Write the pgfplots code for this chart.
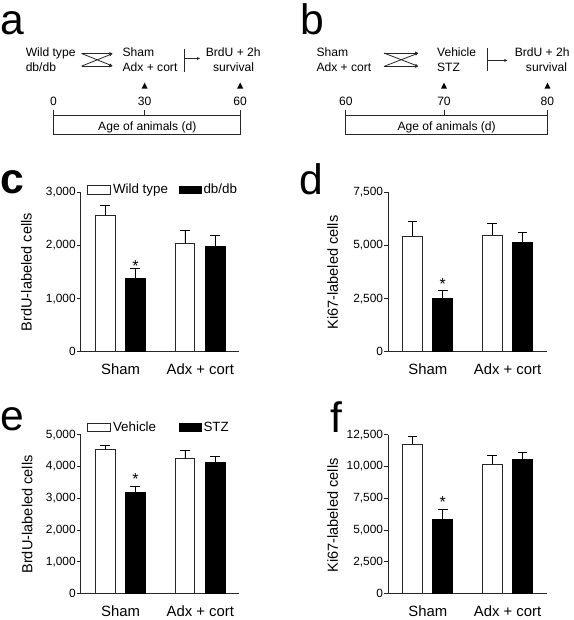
\documentclass[border=0pt]{standalone}
\usepackage{pgfplots}
\pgfplotsset{compat=1.18}
\usepackage{fontspec}
\setmainfont{Liberation Sans}
\usetikzlibrary{arrows.meta}

\newcommand{\tlfont}{\fontsize{12.2}{14}\selectfont}
\newcommand{\lgfont}{\fontsize{13.5}{15}\selectfont}
\newcommand{\ylfont}{\fontsize{14.7}{16}\selectfont}
\newcommand{\plfont}{\fontsize{43}{45}\selectfont}

\pgfplotsset{
  barpanel/.style={
    scale only axis, width=160pt,
    xmin=0, xmax=160, ymin=0,
    axis x line*=bottom, axis y line*=left,
    axis line style={black!85, line width=0.9pt, -},
    xtick={40,120.5}, xticklabels={Sham, Adx + cort},
    x tick style={draw=none},
    xticklabel style={font=\fontsize{15}{17}\selectfont, anchor=base, yshift=-19pt},
    y tick style={black!85, line width=0.9pt},
    tick align=outside, major tick length=4pt,
    yticklabel style={font=\fontsize{12}{14}\selectfont, inner sep=0pt, anchor=east, xshift=-1pt},
    /pgf/number format/assume math mode=true,
    /pgf/number format/1000 sep={,},
    scaled y ticks=false,
    clip=false,
  },
  wbar/.style={ybar, bar width=20pt, bar shift=0pt, fill=white, draw=black!85, line width=0.8pt,
    error bars/.cd, y dir=plus, y explicit,
    error bar style={black, line width=0.9pt},
    error mark options={rotate=90, black, line width=0.9pt, mark size=5pt}},
  bbar/.style={ybar, bar width=20pt, bar shift=0pt, fill=black, draw=black, line width=0.8pt,
    error bars/.cd, y dir=plus, y explicit,
    error bar style={black, line width=0.9pt},
    error mark options={rotate=90, black, line width=0.9pt, mark size=5pt}},
}

\begin{document}
\begin{tikzpicture}
% page frame
\path (0pt,0pt) rectangle (578pt,-620pt);

\begin{scope}[x=1pt,y=-1pt, line width=0.8pt, draw=black!85]
% ---------- panel a ----------
\node[anchor=base west, inner sep=0pt, font=\plfont] at (-1,35) {a};
\node[anchor=base west, inner sep=0pt, font=\tlfont] at (25,57.3) {Wild type};
\node[anchor=base west, inner sep=0pt, font=\tlfont] at (25,72) {db/db};
\draw[-{Latex[length=3.5pt,width=3pt]}] (81.7,54)--(113.3,54);
\draw[-{Latex[length=3.5pt,width=3pt]}] (81.7,54)--(113.3,66.7);
\draw[-{Latex[length=3.5pt,width=3pt]}] (81.7,66.7)--(113.3,54);
\draw[-{Latex[length=3.5pt,width=3pt]}] (81.7,66.7)--(113.3,66.7);
\node[anchor=base west, inner sep=0pt, font=\tlfont] at (122.7,57.3) {Sham};
\node[anchor=base west, inner sep=0pt, font=\tlfont] at (122.7,72) {Adx + cort};
\draw (185,49.3)--(185,72.7);
\draw[-{Latex[length=3.5pt,width=3pt]}] (185,59)--(201.7,59);
\node[anchor=base west, inner sep=0pt, font=\tlfont] at (206.7,57.3) {BrdU + 2h};
\node[anchor=base, inner sep=0pt, font=\tlfont] at (235,72) {survival};
\fill[black] (142.3,89.3)--(148.3,89.3)--(145.3,83.3)--cycle;
\fill[black] (238.7,89.3)--(244.7,89.3)--(241.7,83.3)--cycle;
\node[anchor=base, inner sep=0pt, font=\tlfont] at (53.3,106.7) {0};
\node[anchor=base, inner sep=0pt, font=\tlfont] at (145.3,106.7) {30};
\node[anchor=base, inner sep=0pt, font=\tlfont] at (241.7,106.7) {60};
\draw (53.3,110.7)--(53.3,135.7)--(241.7,135.7)--(241.7,110.7);
\draw (53.3,116)--(241.7,116);
\draw (145.3,110.7)--(145.3,116);
\node[anchor=base, inner sep=0pt, font=\tlfont] at (148,131.3) {Age of animals (d)};

% ---------- panel b ----------
\node[anchor=base west, inner sep=0pt, font=\plfont] at (302.5,35) {b};
\node[anchor=base west, inner sep=0pt, font=\tlfont] at (318.3,56.7) {Sham};
\node[anchor=base west, inner sep=0pt, font=\tlfont] at (318.3,71.7) {Adx + cort};
\draw[-{Latex[length=3.5pt,width=3pt]}] (386.7,53.5)--(421.7,53.5);
\draw[-{Latex[length=3.5pt,width=3pt]}] (386.7,53.5)--(421.7,67);
\draw[-{Latex[length=3.5pt,width=3pt]}] (386.7,67)--(421.7,53.5);
\draw[-{Latex[length=3.5pt,width=3pt]}] (386.7,67)--(421.7,67);
\node[anchor=base west, inner sep=0pt, font=\tlfont] at (440,56.7) {Vehicle};
\node[anchor=base west, inner sep=0pt, font=\tlfont] at (440,71.7) {STZ};
\draw (491,48.3)--(491,71.7);
\draw[-{Latex[length=3.5pt,width=3pt]}] (491,61)--(511.7,61);
\node[anchor=base west, inner sep=0pt, font=\tlfont] at (518.3,56.7) {BrdU + 2h};
\node[anchor=base, inner sep=0pt, font=\tlfont] at (550.7,71.7) {survival};
\fill[black] (444.3,89.3)--(450.3,89.3)--(447.3,83.3)--cycle;
\fill[black] (548.7,89.3)--(554.7,89.3)--(551.7,83.3)--cycle;
\node[anchor=base, inner sep=0pt, font=\tlfont] at (348.3,106.7) {60};
\node[anchor=base, inner sep=0pt, font=\tlfont] at (447.3,106.7) {70};
\node[anchor=base, inner sep=0pt, font=\tlfont] at (551.7,106.7) {80};
\draw (348.3,110.7)--(348.3,135.7)--(551.7,135.7)--(551.7,110.7);
\draw (348.3,116)--(551.7,116);
\draw (447.3,110.7)--(447.3,116);
\node[anchor=base, inner sep=0pt, font=\tlfont] at (450,131.3) {Age of animals (d)};

% ---------- panel letters & y labels for c-f ----------
\node[anchor=base west, inner sep=0pt, font=\plfont\bfseries] at (-1,195) {c};
\node[anchor=base west, inner sep=0pt, font=\plfont] at (301,196.7) {d};
\node[anchor=base west, inner sep=0pt, font=\plfont] at (-1,434) {e};
\node[anchor=base west, inner sep=0pt, font=\plfont] at (332.5,436.7) {f};
\node[rotate=90, inner sep=0pt, font=\ylfont] at (26,274.5) {BrdU-labeled cells};
\node[rotate=90, inner sep=0pt, font=\ylfont] at (335,275) {Ki67-labeled cells};
\node[rotate=90, inner sep=0pt, font=\ylfont] at (26.7,519) {BrdU-labeled cells};
\node[rotate=90, inner sep=0pt, font=\ylfont] at (335,520) {Ki67-labeled cells};

% ---------- legends ----------
\draw[fill=white] (87.3,187.3) rectangle (111,195.7);
\node[anchor=base west, inner sep=0pt, font=\lgfont] at (113,195.7) {Wild type};
\fill[black] (180,187.3) rectangle (203.3,195.7);
\node[anchor=base west, inner sep=0pt, font=\lgfont] at (204.3,195.7) {db/db};
\draw[fill=white] (87.3,426.7) rectangle (111,435.7);
\node[anchor=base west, inner sep=0pt, font=\lgfont] at (113,435.7) {Vehicle};
\fill[black] (180,426.7) rectangle (203.3,435.7);
\node[anchor=base west, inner sep=0pt, font=\lgfont] at (204.3,435.7) {STZ};
\end{scope}

% ---------- panel c ----------
\begin{axis}[barpanel, at={(81pt,-355pt)}, anchor=south west, height=161pt,
  ymax=3000, ytick={0,1000,2000,3000}]
\addplot[wbar] coordinates {(24.5,2566) +- (0,179) (105,2044) +- (0,242)};
\addplot[bbar] coordinates {(55,1385) +- (0,193) (135.5,1981) +- (0,205)};
\node[anchor=base, yshift=-7.5pt, inner sep=0pt, font=\fontsize{16}{16}\selectfont] at (axis cs:55,1645) {*};
\end{axis}

% ---------- panel d ----------
\begin{axis}[barpanel, at={(391pt,-355pt)}, anchor=south west, height=161pt,
  ymax=7500, ytick={0,2500,5000,7500}]
\addplot[wbar] coordinates {(24.5,5436) +- (0,699) (105,5483) +- (0,559)};
\addplot[bbar] coordinates {(55,2530) +- (0,343) (135.5,5138) +- (0,484)};
\node[anchor=base, yshift=-7.5pt, inner sep=0pt, font=\fontsize{16}{16}\selectfont] at (axis cs:55,3284) {*};
\end{axis}

% ---------- panel e ----------
\begin{axis}[barpanel, at={(81pt,-599pt)}, anchor=south west, height=160.5pt,
  ymax=5000, ytick={0,1000,2000,3000,4000,5000}]
\addplot[wbar] coordinates {(24.5,4522) +- (0,125) (105,4250) +- (0,250)};
\addplot[bbar] coordinates {(55,3178) +- (0,188) (135.5,4125) +- (0,178)};
\node[anchor=base, yshift=-7.5pt, inner sep=0pt, font=\fontsize{16}{16}\selectfont] at (axis cs:55,3656) {*};
\end{axis}

% ---------- panel f ----------
\begin{axis}[barpanel, at={(391pt,-599pt)}, anchor=south west, height=160.5pt,
  ymax=12500, ytick={0,2500,5000,7500,10000,12500}]
\addplot[wbar] coordinates {(24.5,11769) +- (0,622) (105,10190) +- (0,677)};
\addplot[bbar] coordinates {(55,5810) +- (0,778) (135.5,10579) +- (0,490)};
\node[anchor=base, yshift=-7.5pt, inner sep=0pt, font=\fontsize{16}{16}\selectfont] at (axis cs:55,7335) {*};
\end{axis}
\end{tikzpicture}
\end{document}
